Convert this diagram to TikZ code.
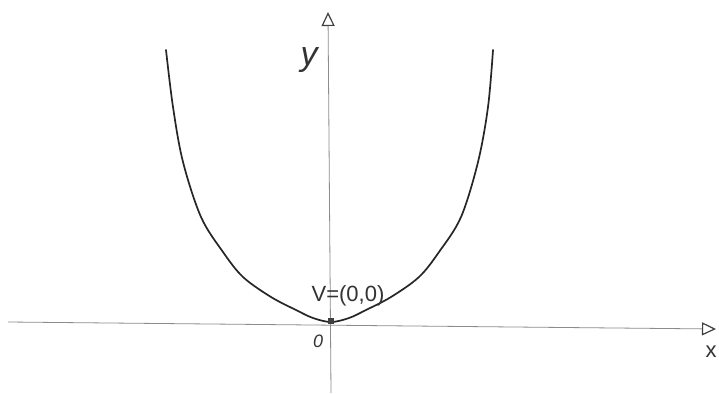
\documentclass[tikz,border=0pt]{standalone}
\usepackage{fontspec}
\setmainfont{Liberation Sans}
\usetikzlibrary{arrows.meta}
\tikzset{
  axis/.style={draw=black!45, line width=0.8pt, -{Triangle[open, length=14pt, width=13pt, line width=1.2pt, black!75]}},
  curve/.style={draw=black!85, line width=1.7pt, line cap=round, line join=round},
  lbl/.style={text=black!80, inner sep=0pt}
}
\begin{document}
\begin{tikzpicture}[x=1pt,y=-1pt]
\useasboundingbox (0,0) rectangle (719,393);
\fill[white] (0,0) rectangle (719,393);
% axes
\coordinate (xs) at (8,322);
\coordinate (xe) at (716,329);
\coordinate (ys) at (331,393);
\coordinate (ye) at (328,12);
\draw[axis] (xs) -- (xe);
\draw[axis] (ys) -- (ye);
% curve
\draw[curve] plot[smooth, tension=0.55] coordinates {(166,50) (173,107) (183,162) (201,217) (223,252) (243,277) (271,297) (296,310) (313,318) (331,322) (349,318) (366,310) (391,297) (419,277) (439,252) (461,217) (478,162) (488,107) (493,50)};
% vertex marker
\node[fill=black!75, minimum size=6pt, inner sep=0pt] (v) at (331,321) {};
% labels
\node[lbl, font=\fontsize{22}{22}\selectfont] (vl) at (348,296) {V=(0,0)};
\node[lbl, font=\itshape\fontsize{18}{18}\selectfont] (o) at (318,341) {0};
\node[lbl, font=\itshape\fontsize{34}{34}\selectfont] (yl) at (309,60) {y};
\node[lbl, font=\fontsize{22}{22}\selectfont] (xl) at (711,352) {x};
\end{tikzpicture}
\end{document}
